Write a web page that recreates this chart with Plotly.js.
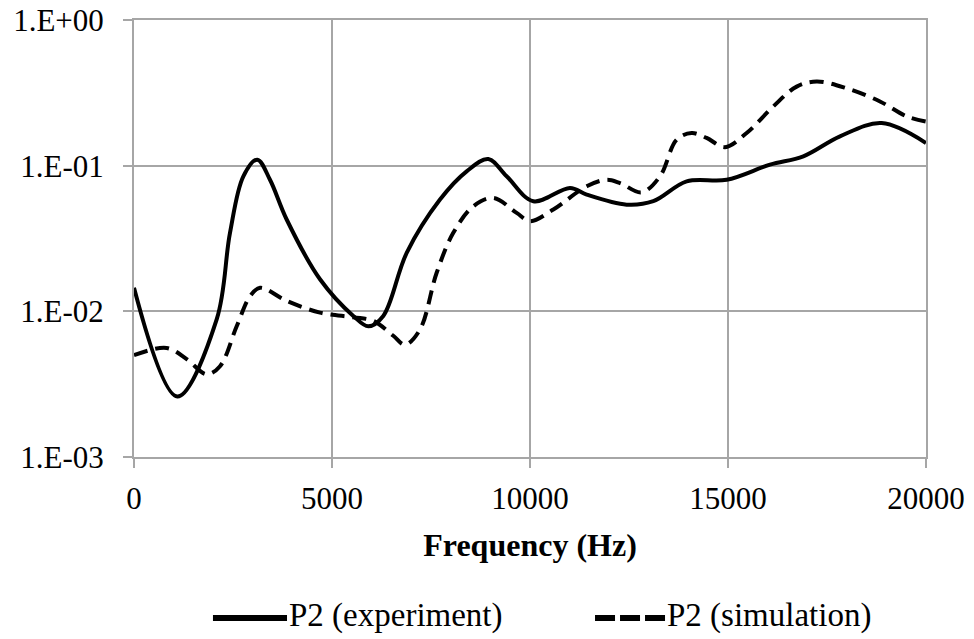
<!DOCTYPE html>
<html>
<head>
<meta charset="utf-8">
<script src="https://cdn.plot.ly/plotly-3.0.1.min.js"></script>
<style>html,body{margin:0;padding:0;background:#fff;}#chart{width:974px;height:639px;}</style>
</head>
<body>
<div id="chart"></div>
<script>
const expFreq = [0, 1094, 2088, 2424, 2761, 3114, 3434, 3855, 4697, 5538, 5917, 6295, 6886, 7727, 8400, 8947, 9411, 10084, 11010, 11431, 12441, 13114, 13956, 14966, 16061, 16902, 17828, 18880, 20000];
const expVal = [0.0145, 0.0026, 0.0088, 0.0346, 0.0845, 0.11, 0.080, 0.0427, 0.0166, 0.0093, 0.0079, 0.0093, 0.0252, 0.0585, 0.0914, 0.111, 0.0845, 0.057, 0.0703, 0.0633, 0.054, 0.057, 0.078, 0.080, 0.1016, 0.116, 0.159, 0.196, 0.143];

const simFreq = [0, 825, 1330, 1835, 2172, 2593, 2929, 3182, 3855, 4697, 5538, 6043, 6548, 6843, 7222, 7643, 8063, 8568, 9073, 9663, 10000, 10589, 11431, 11936, 12273, 12820, 13283, 13704, 14083, 14461, 14924, 15471, 16144, 16734, 17239, 17996, 18838, 19512, 20000];
const simVal = [0.005, 0.0056, 0.0047, 0.0037, 0.0042, 0.0079, 0.0127, 0.0145, 0.0118, 0.0098, 0.0091, 0.0086, 0.0068, 0.0059, 0.0075, 0.0184, 0.0346, 0.0526, 0.060, 0.0474, 0.0416, 0.050, 0.0722, 0.080, 0.076, 0.0656, 0.0845, 0.151, 0.1675, 0.155, 0.134, 0.1675, 0.255, 0.349, 0.378, 0.340, 0.276, 0.218, 0.201];

const seriesNames = ["P2 (experiment)", "P2 (simulation)"];
const yTickVals = [1, 0.1, 0.01, 0.001];
const yTickText = ["1.E+00", "1.E-01", "1.E-02", "1.E-03"];
const xTickVals = [0, 5000, 10000, 15000, 20000];

const font = "Liberation Serif, Times New Roman, serif";
const gridColor = "#a6a6a6";
const dashCurve = "14px,8px";
const dashLegend = "20px,5px";

const traces = [
  {x: expFreq, y: expVal, name: seriesNames[0], mode: "lines", type: "scatter",
   line: {color: "#000", width: 4, shape: "spline", smoothing: 1}},
  {x: simFreq, y: simVal, name: seriesNames[1], mode: "lines", type: "scatter",
   line: {color: "#000", width: 4, shape: "spline", smoothing: 1, dash: dashCurve}}
];

// custom legend (line samples + labels) placed below the plot
const legendY = -0.3684;
const legendTextY = -0.3638;
const shapes = [
  {type: "line", xref: "paper", yref: "paper", x0: 0.0997, x1: 0.1932, y0: legendY, y1: legendY,
   line: {color: "#000", width: 6}},
  {type: "line", xref: "paper", yref: "paper", x0: 0.5821, x1: 0.6705, y0: legendY, y1: legendY,
   line: {color: "#000", width: 6, dash: dashLegend}}
];
const annotations = [
  {xref: "paper", yref: "paper", x: 0.1932, y: legendTextY, xanchor: "left", yanchor: "middle",
   text: seriesNames[0], showarrow: false, font: {family: font, size: 33, color: "#000"}},
  {xref: "paper", yref: "paper", x: 0.6705, y: legendTextY, xanchor: "left", yanchor: "middle",
   text: seriesNames[1], showarrow: false, font: {family: font, size: 33, color: "#000"}}
];

const layout = {
  width: 974, height: 639,
  margin: {l: 134, r: 48, t: 20, b: 182},
  paper_bgcolor: "#fff", plot_bgcolor: "#fff",
  font: {family: font, color: "#000", size: 31},
  showlegend: false,
  shapes: shapes,
  annotations: annotations,
  xaxis: {range: [0, 20000], tickvals: xTickVals, ticktext: xTickVals.map(String),
          showgrid: true, gridcolor: gridColor, gridwidth: 2,
          showline: true, linecolor: gridColor, linewidth: 2, mirror: true,
          ticks: "outside", ticklen: 9, tickwidth: 2, tickcolor: gridColor,
          ticklabelstandoff: 4,
          zeroline: false, tickfont: {family: font, size: 31},
          title: {text: "<b>Frequency (Hz)</b>", font: {family: font, size: 32}, standoff: 18}},
  yaxis: {type: "log", range: [-3, 0], tickvals: yTickVals, ticktext: yTickText,
          showgrid: true, gridcolor: gridColor, gridwidth: 2,
          showline: true, linecolor: gridColor, linewidth: 2, mirror: true,
          ticks: "outside", ticklen: 9, tickwidth: 2, tickcolor: gridColor,
          ticklabelstandoff: 13,
          zeroline: false, tickfont: {family: font, size: 31}}
};

Plotly.newPlot("chart", traces, layout, {displayModeBar: false, staticPlot: true});
</script>
</body>
</html>
